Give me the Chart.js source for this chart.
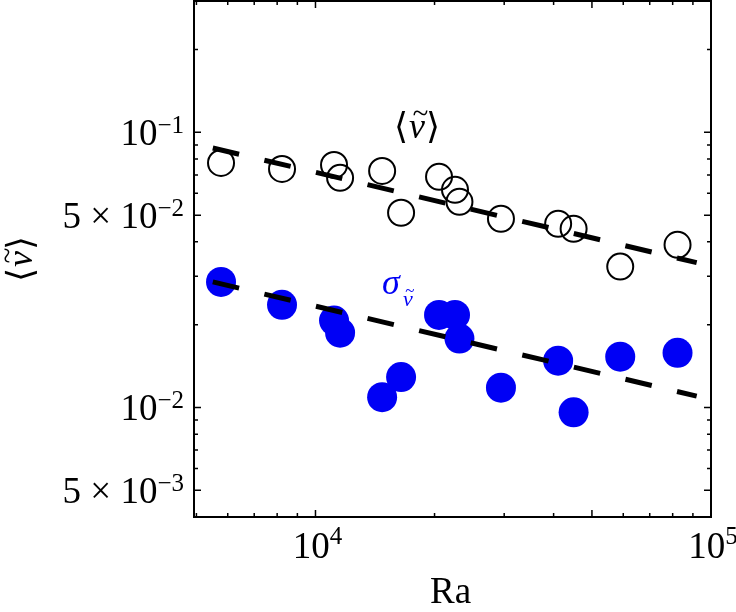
<!DOCTYPE html>
<html>
<head>
<meta charset="utf-8">
<script src="https://cdn.jsdelivr.net/npm/chart.js@4.4.0/dist/chart.umd.min.js"></script>
<style>
  html, body { margin: 0; padding: 0; background: #fff; }
  #wrap { width: 736px; height: 612px; }
</style>
</head>
<body>
<div id="wrap"><canvas id="chart" width="736" height="612"></canvas></div>
<script>
// Rayleigh numbers (shared by both series)
const ra = [5770, 8230, 11140, 11540, 14740, 16460, 20530, 22530, 23120, 29440, 41070, 44940, 58950, 82300];
// <v~> open circles
const meanV = [0.0774, 0.0736, 0.0761, 0.0683, 0.0724, 0.0510, 0.0689, 0.0618, 0.0559, 0.0485, 0.0465, 0.0446, 0.0325, 0.0390];
// sigma_v~ filled circles
const sigmaV = [0.0286, 0.0236, 0.0207, 0.0187, 0.0109, 0.0129, 0.0217, 0.0217, 0.0178, 0.0118, 0.0148, 0.0096, 0.0153, 0.0158];
// dashed power-law fits (end points)
const fitRa = [5500, 92000];
const fitMean = [0.0877, 0.0336];
const fitSigma = [0.0286, 0.0110];

// tick labels
const xTickVals = [1e4, 1e5];
const xTickLabels = [['10', '4'], ['10', '5']];
const yTickVals = [0.1, 0.05, 0.01, 0.005];
const yTickLabels = [['10', '\u22121'], ['5 \u00d7 10', '\u22122'], ['10', '\u22122'], ['5 \u00d7 10', '\u22123']];

const SERIF = "'Liberation Serif', 'DejaVu Serif', serif";
const BLUE = '#0000f5';

function pts(xs, ys) {
    return xs.map((x, i) => ({ x: x, y: ys[i] }));
}

// log minor ticks between two values
function logTicks(lo, hi) {
    const out = [];
    for (let e = Math.floor(Math.log10(lo)); e <= Math.ceil(Math.log10(hi)); e++) {
        for (let m = 1; m < 10; m++) {
            const v = m * Math.pow(10, e);
            if (v >= lo * 0.999 && v <= hi * 1.001) out.push(v);
        }
    }
    return out;
}

// draws "<v~>" centred at (cx, cy) in current transform
function drawAngleV(ctx, cx, cy, size, color) {
    ctx.save();
    ctx.fillStyle = color;
    ctx.textBaseline = 'alphabetic';
    ctx.textAlign = 'left';
    ctx.font = size + 'px ' + SERIF;
    const lb = '\u27e8', rb = '\u27e9';
    const wl = ctx.measureText(lb).width;
    const wr = ctx.measureText(rb).width;
    ctx.font = 'italic ' + size + 'px ' + SERIF;
    const wv = ctx.measureText('v').width;
    const total = wl + wv + wr + 2;
    let x = cx - total / 2;
    const base = cy + size * 0.3;
    ctx.font = size + 'px ' + SERIF;
    ctx.fillText(lb, x, base);
    x += wl + 1;
    ctx.font = 'italic ' + size + 'px ' + SERIF;
    ctx.fillText('v', x, base);
    ctx.font = 'italic ' + Math.round(size * 0.8) + 'px ' + SERIF;
    ctx.fillText('~', x + wv * 0.2, base - size * 0.42);
    x += wv + 1;
    ctx.font = size + 'px ' + SERIF;
    ctx.fillText(rb, x, base);
    ctx.restore();
}

const framePlugin = {
    id: 'frame',
    afterDraw(chart) {
        const ctx = chart.ctx;
        const a = chart.chartArea;
        const xs = chart.scales.x, ys = chart.scales.y;
        ctx.save();
        ctx.strokeStyle = '#000';
        ctx.lineWidth = 2;
        ctx.strokeRect(a.left, a.top, a.right - a.left, a.bottom - a.top);

        // tick marks, inward on all sides
        ctx.lineWidth = 1.5;
        const xMajor = [1e4, 5e4, 1e5];
        logTicks(xs.min, xs.max).forEach(v => {
            const px = xs.getPixelForValue(v);
            const len = xMajor.some(m => Math.abs(m - v) < 1) ? 7 : 4;
            ctx.beginPath();
            ctx.moveTo(px, a.bottom); ctx.lineTo(px, a.bottom - len);
            ctx.moveTo(px, a.top); ctx.lineTo(px, a.top + len);
            ctx.stroke();
        });
        const yMajor = [0.1, 0.05, 0.01, 0.005];
        logTicks(ys.min, ys.max).forEach(v => {
            const py = ys.getPixelForValue(v);
            const len = yMajor.some(m => Math.abs(m - v) / m < 1e-6) ? 7 : 4;
            ctx.beginPath();
            ctx.moveTo(a.left, py); ctx.lineTo(a.left + len, py);
            ctx.moveTo(a.right, py); ctx.lineTo(a.right - len, py);
            ctx.stroke();
        });

        // tick labels
        ctx.fillStyle = '#000';
        ctx.textBaseline = 'alphabetic';
        const baseFont = '37px ' + SERIF, supFont = '25px ' + SERIF;
        yTickVals.forEach((v, i) => {
            const py = ys.getPixelForValue(v);
            const [b, s] = yTickLabels[i];
            ctx.font = supFont;
            const ws = ctx.measureText(s).width;
            ctx.textAlign = 'right';
            ctx.fillText(s, a.left - 10, py + 1);
            ctx.font = baseFont;
            ctx.fillText(b, a.left - 10 - ws, py + 13);
        });
        xTickVals.forEach((v, i) => {
            const px = xs.getPixelForValue(v);
            const [b, s] = xTickLabels[i];
            ctx.font = baseFont;
            const wb = ctx.measureText(b).width;
            ctx.font = supFont;
            const ws = ctx.measureText(s).width;
            const x0 = px - (wb + ws) / 2 + 2;
            ctx.textAlign = 'left';
            ctx.font = baseFont;
            ctx.fillText(b, x0, a.bottom + 41);
            ctx.font = supFont;
            ctx.fillText(s, x0 + wb, a.bottom + 27);
        });

        // axis titles
        ctx.textAlign = 'center';
        ctx.font = '37px ' + SERIF;
        ctx.fillText('Ra', (a.left + a.right) / 2 - 2, a.bottom + 86);
        ctx.save();
        ctx.translate(21, 259);
        ctx.rotate(-Math.PI / 2);
        drawAngleV(ctx, 0, 0, 36, '#000');
        ctx.restore();

        // in-plot labels
        drawAngleV(ctx, 417, 127, 36, '#000');
        ctx.textAlign = 'left';
        ctx.fillStyle = BLUE;
        ctx.font = 'italic 36px ' + SERIF;
        ctx.fillText('\u03c3', 382, 294);
        ctx.font = 'italic 22px ' + SERIF;
        ctx.fillText('v', 403, 306);
        ctx.font = 'italic 17px ' + SERIF;
        ctx.fillText('~', 405, 296);
        ctx.restore();
    }
};

const ctx = document.getElementById('chart').getContext('2d');
new Chart(ctx, {
    type: 'scatter',
    data: {
        datasets: [
            {
                type: 'line',
                data: pts(fitRa, fitMean),
                borderColor: '#000',
                borderWidth: 5,
                borderDash: [27, 26],
                pointRadius: 0,
                fill: false
            },
            {
                type: 'line',
                data: pts(fitRa, fitSigma),
                borderColor: '#000',
                borderWidth: 5,
                borderDash: [27, 26],
                pointRadius: 0,
                fill: false
            },
            {
                data: pts(ra, meanV),
                pointStyle: 'circle',
                pointRadius: 13,
                borderWidth: 2,
                borderColor: '#000',
                backgroundColor: 'rgba(0,0,0,0)'
            },
            {
                data: pts(ra, sigmaV),
                pointStyle: 'circle',
                pointRadius: 15,
                borderWidth: 0,
                backgroundColor: BLUE
            }
        ]
    },
    options: {
        responsive: false,
        animation: false,
        devicePixelRatio: 1,
        layout: { autoPadding: false, padding: { left: 194, right: 25, top: 1, bottom: 95 } },
        plugins: { legend: { display: false }, tooltip: { enabled: false } },
        scales: {
            x: { type: 'logarithmic', min: 4930, max: 100000, display: false },
            y: { type: 'logarithmic', min: 0.004, max: 0.3, display: false }
        }
    },
    plugins: [framePlugin]
});
</script>
</body>
</html>
